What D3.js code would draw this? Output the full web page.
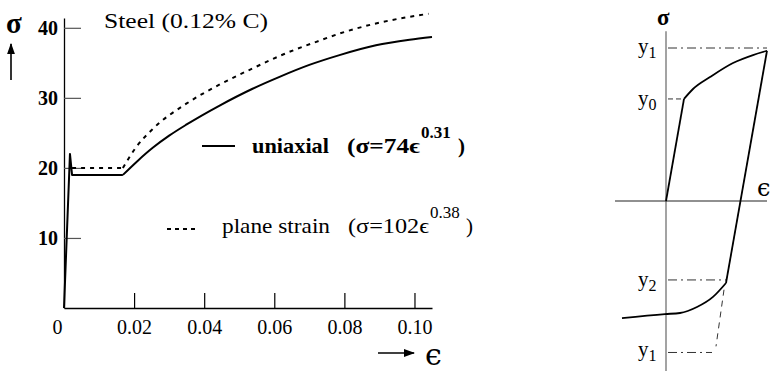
<!DOCTYPE html>
<html>
<head>
<meta charset="utf-8">
<script src="https://cdn.jsdelivr.net/npm/d3@7"></script>
<style>
  body { margin: 0; background: #fff; }
  svg { display: block; }
  text { font-family: "Liberation Serif", "Times New Roman", serif; fill: #000; }
</style>
</head>
<body>
<div id="chart"></div>
<script>
// ---- data ----
const xTicks = [0, 0.02, 0.04, 0.06, 0.08, 0.10];
const yTicks = [10, 20, 30, 40];

// uniaxial (solid) : [strain, stress] -- elastic spike + plateau, then hardening
const uniaxialYield = [[0, 0], [0.0017, 22], [0.0023, 19], [0.0168, 19]];
const uniaxialHardening = [
  [0.0168, 19], [0.021, 21.0], [0.0254, 22.9], [0.030, 24.6], [0.035, 26.2],
  [0.0444, 28.9], [0.0538, 31.3], [0.0615, 33.0], [0.070, 34.7],
  [0.0786, 36.1], [0.089, 37.5], [0.0986, 38.3], [0.105, 38.7]
];

// plane strain (dotted)
const planeYield = [[0.0023, 20], [0.0168, 20]];
const planeHardening = [
  [0.0168, 20], [0.0205, 22.9], [0.0254, 25.6], [0.035, 29.2], [0.0444, 31.9],
  [0.0538, 34.2], [0.063, 36.3], [0.072, 38.0], [0.080, 39.4],
  [0.088, 40.5], [0.0966, 41.4], [0.104, 42.0]
];

// schematic cycle (right) in y1 units
const elastic = [[0, 0], [0.18, 0.667]];
const hardening = [[0.18, 0.667], [0.27, 0.732], [0.44, 0.81], [0.67, 0.902], [0.87, 0.954], [1.01, 0.982]];
const unloading = [[1.01, 0.982], [0.60, -0.536]];
const reverse = [[-0.44, -0.765], [-0.01, -0.739], [0.14, -0.732], [0.31, -0.693], [0.47, -0.627], [0.60, -0.536]];
const levels = { y1: 1, y0: 0.667, y2: -0.516, ny1: -0.99 };

const width = 774, height = 371;
const serif = "'Liberation Serif', 'Times New Roman', serif";

const svg = d3.select("#chart")
  .append("svg")
  .attr("width", width)
  .attr("height", height);

/* -----------------------------
   left: stress-strain chart
-------------------------------- */
const x = d3.scaleLinear().domain([0, 0.105]).range([64, 432]);
const y = d3.scaleLinear().domain([0, 41.4]).range([308, 18]);

const xAxis = svg.append("g")
  .attr("transform", `translate(0, ${y(0)})`)
  .call(d3.axisBottom(x)
    .tickValues(xTicks)
    .tickSize(-15)
    .tickSizeOuter(0)
    .tickPadding(8)
    .tickFormat(d => d === 0 ? "0" : d3.format(".2f")(d)))
  .attr("font-family", serif);
xAxis.select(".domain").attr("stroke", "#000").attr("stroke-width", 1.3);
xAxis.selectAll(".tick line").attr("stroke", "#000").attr("stroke-width", 1.2)
  .filter(d => d === 0).remove();
xAxis.selectAll(".tick text")
  .style("font-family", serif)
  .style("font-size", "20px")
  .attr("dy", "0.9em")
  .attr("x", d => d === 0 ? -7 : 0);

const yAxis = svg.append("g")
  .attr("transform", `translate(${x(0)}, 0)`)
  .call(d3.axisLeft(y)
    .tickValues(yTicks)
    .tickSize(-17)
    .tickSizeOuter(0)
    .tickPadding(6))
  .attr("font-family", serif);
yAxis.select(".domain").attr("stroke", "#000").attr("stroke-width", 1.3);
yAxis.selectAll(".tick line").attr("stroke", "#555").attr("stroke-width", 1.2);
yAxis.selectAll(".tick text")
  .style("font-family", serif)
  .style("font-size", "20px")
  .style("font-weight", "bold");

const line = d3.line()
  .x(d => x(d[0]))
  .y(d => y(d[1]));

const curveSeg = (data, curve, dash) => svg.append("path")
  .datum(data)
  .attr("d", line.curve(curve))
  .attr("fill", "none")
  .attr("stroke", "#000")
  .attr("stroke-width", 2)
  .attr("stroke-linejoin", "round")
  .attr("stroke-dasharray", dash);

curveSeg(planeYield, d3.curveLinear, "4,5");
curveSeg(planeHardening, d3.curveMonotoneX, "4,5");
curveSeg(uniaxialYield, d3.curveLinear, null);
curveSeg(uniaxialHardening, d3.curveMonotoneX, null);

// title
svg.append("text")
  .attr("x", 104).attr("y", 28)
  .attr("textLength", 164).attr("lengthAdjust", "spacingAndGlyphs")
  .style("font-size", "21px")
  .text("Steel (0.12% C)");

// sigma with arrow
svg.append("text")
  .attr("x", 6).attr("y", 33)
  .style("font-size", "29px")
  .style("font-weight", "bold")
  .text("σ");

const defs = svg.append("defs");
defs.append("marker")
  .attr("id", "head")
  .attr("viewBox", "0 0 10 10")
  .attr("refX", 9).attr("refY", 5)
  .attr("markerWidth", 7).attr("markerHeight", 7)
  .attr("orient", "auto")
  .append("path")
  .attr("d", "M0,1.5 L10,5 L0,8.5 Z")
  .attr("fill", "#000");

svg.append("line")
  .attr("x1", 11).attr("y1", 80).attr("x2", 11).attr("y2", 44)
  .attr("stroke", "#000").attr("stroke-width", 1.6)
  .attr("marker-end", "url(#head)");

svg.append("line")
  .attr("x1", 378).attr("y1", 353).attr("x2", 414).attr("y2", 353)
  .attr("stroke", "#000").attr("stroke-width", 1.6)
  .attr("marker-end", "url(#head)");

svg.append("text")
  .attr("x", 425).attr("y", 365)
  .style("font-family", "'DejaVu Serif', serif")
  .style("font-size", "30px")
  .text("ϵ");

// legend
svg.append("line")
  .attr("x1", 202).attr("y1", 146).attr("x2", 235).attr("y2", 146)
  .attr("stroke", "#000").attr("stroke-width", 2);

svg.append("text")
  .attr("x", 252).attr("y", 153)
  .attr("textLength", 77).attr("lengthAdjust", "spacingAndGlyphs")
  .style("font-size", "21px").style("font-weight", "bold")
  .text("uniaxial");

const eqn = (x0, yb, body, bodyLen, exp, closeX, bold) => {
  const w = bold ? "bold" : "normal";
  svg.append("text")
    .attr("x", x0).attr("y", yb)
    .attr("textLength", bodyLen).attr("lengthAdjust", "spacingAndGlyphs")
    .style("font-size", "21px").style("font-weight", w)
    .text(body);
  svg.append("text")
    .attr("x", x0 + bodyLen + 1).attr("y", yb - 15)
    .style("font-size", "17px").style("font-weight", w)
    .text(exp);
  svg.append("text")
    .attr("x", closeX).attr("y", yb)
    .style("font-size", "21px").style("font-weight", w)
    .text(")");
};
eqn(347, 153, "(σ=74ϵ", 73, "0.31", 458, true);

svg.append("line")
  .attr("x1", 167).attr("y1", 229).attr("x2", 199).attr("y2", 229)
  .attr("stroke", "#000").attr("stroke-width", 1.8)
  .attr("stroke-dasharray", "4,4");

svg.append("text")
  .attr("x", 222).attr("y", 233)
  .attr("textLength", 108).attr("lengthAdjust", "spacingAndGlyphs")
  .style("font-size", "21px")
  .text("plane strain");

eqn(348, 233, "(σ=102ϵ", 81, "0.38", 466, false);

/* -----------------------------
   right: schematic cycle
-------------------------------- */
const rx = d3.scaleLinear().domain([0, 1]).range([666, 766]);
const ry = d3.scaleLinear().domain([-1, 1]).range([354, 48]);

// axes
svg.append("line")
  .attr("x1", rx(0)).attr("x2", rx(0))
  .attr("y1", ry(1.11)).attr("y2", height)
  .attr("stroke", "#666").attr("stroke-width", 1.2);
svg.append("line")
  .attr("x1", rx(-0.51)).attr("x2", rx(1.01))
  .attr("y1", ry(0)).attr("y2", ry(0))
  .attr("stroke", "#222").attr("stroke-width", 1.2);

svg.append("text")
  .attr("x", 657).attr("y", 25)
  .style("font-size", "23px").style("font-weight", "bold")
  .text("σ");
svg.append("text")
  .attr("x", 757).attr("y", 196)
  .style("font-family", "'DejaVu Serif', serif")
  .style("font-size", "24px")
  .text("ϵ");

// guide lines
const guide = (x1, y1, x2, y2, dash) => svg.append("line")
  .attr("x1", rx(x1)).attr("y1", ry(y1))
  .attr("x2", rx(x2)).attr("y2", ry(y2))
  .attr("stroke", "#333").attr("stroke-width", 1)
  .attr("stroke-dasharray", dash);

guide(0.02, levels.y1, 1.01, levels.y1, "9,4,2,4");
guide(0.02, levels.y0, 0.18, levels.y0, "5,3");
guide(0.02, levels.y2, 0.60, levels.y2, "9,4,2,4");
guide(0.02, levels.ny1, 0.46, levels.ny1, "9,4,2,4");
guide(0.58, -0.58, 0.50, levels.ny1 + 0.04, "6,5");

const rline = d3.line().x(d => rx(d[0])).y(d => ry(d[1]));
const drawR = (data, curve) => svg.append("path")
  .datum(data)
  .attr("d", rline.curve(curve))
  .attr("fill", "none")
  .attr("stroke", "#000")
  .attr("stroke-width", 1.8)
  .attr("stroke-linejoin", "round");

drawR(elastic, d3.curveLinear);
drawR(hardening, d3.curveMonotoneX);
drawR(unloading, d3.curveLinear);
drawR(reverse, d3.curveMonotoneX);

// level labels
const levelLabel = (yy, sub) => {
  const t = svg.append("text")
    .attr("x", 638).attr("y", yy)
    .style("font-size", "21px");
  t.append("tspan").text("y");
  t.append("tspan").attr("dy", 5).style("font-size", "16px").text(sub);
};
levelLabel(ry(levels.y1) + 5, "1");
levelLabel(ry(levels.y0) + 6, "0");
levelLabel(ry(levels.y2) + 6, "2");
levelLabel(ry(levels.ny1) + 4, "1");
</script>
</body>
</html>
